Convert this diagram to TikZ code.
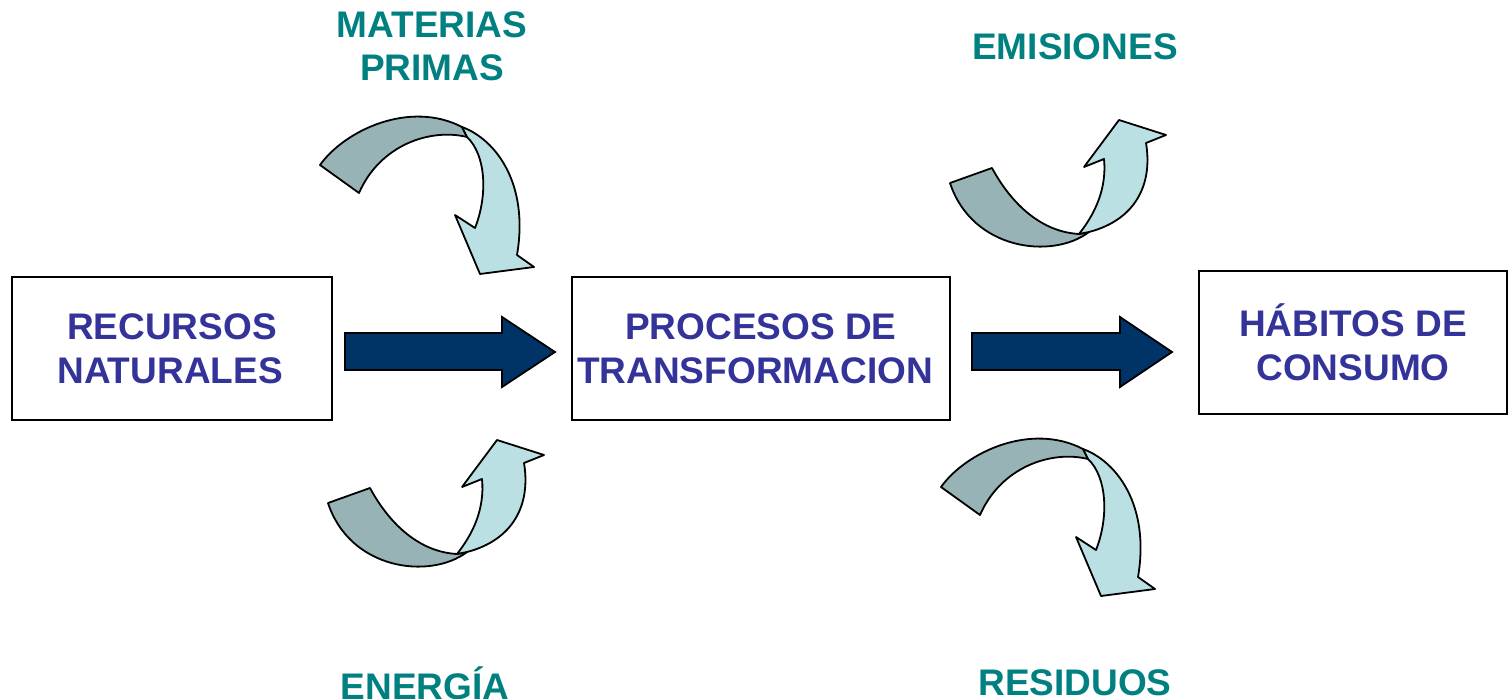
\documentclass[tikz,border=0pt]{standalone}
\usepackage{fontspec}
\setmainfont{Liberation Sans}
\definecolor{boxtext}{RGB}{51,51,153}
\definecolor{labteal}{RGB}{0,128,128}
\definecolor{ribdark}{RGB}{151,179,182}
\definecolor{riblight}{RGB}{187,224,227}
\definecolor{blockblue}{RGB}{0,51,102}
\tikzset{
  box/.style={draw=black, line width=0.9pt, fill=white, inner sep=0pt, align=center,
    text=boxtext, font=\bfseries\fontsize{18.5}{22}\selectfont},
  lbl/.style={inner sep=0pt, align=center, text=labteal, font=\bfseries\fontsize{18.5}{21.5}\selectfont},
  ribbon/.style={draw=black, line width=0.9pt, line join=round},
  blockarrow/.style={draw=black, line width=0.9pt, fill=blockblue, line join=miter},
  pics/downribbon/.style={code={
    \draw[ribbon, fill=ribdark] (320,165) .. controls (345,130) and (410,100) .. (462,127)
      -- (467,137) .. controls (430,128) and (380,145) .. (359,193) -- cycle;
    \draw[ribbon, fill=riblight] (462,127) .. controls (497,140) and (529,185) .. (517,255)
      -- (534,267) -- (480,274) -- (455,215) -- (475,228)
      .. controls (488,195) and (486,155) .. (467,137) -- cycle;
  }},
  pics/upribbon/.style={code={
    \draw[ribbon, fill=ribdark] (328,503) -- (370,488) .. controls (390,525) and (420,552) .. (457,554)
      -- (467,552) .. controls (430,580) and (350,570) .. (328,503) -- cycle;
    \draw[ribbon, fill=riblight] (457,554) .. controls (472,535) and (485,510) .. (482,479)
      -- (462,487) -- (497,440) -- (544,455) -- (524,463)
      .. controls (531,505) and (513,540) .. (467,552) -- cycle;
  }}
}
\begin{document}
\begin{tikzpicture}[x=0.5pt, y=-0.5pt]
\useasboundingbox (0,0) rectangle (1508,699);
% boxes
\node[box, minimum width=160pt, minimum height=71.5pt] (rec) at (172,348.5) {RECURSOS\\NATURALES\hspace*{2pt}};
\node[box, minimum width=189pt, minimum height=71.5pt] (pro) at (761,348.5) {PROCESOS DE\\TRANSFORMACION\hspace*{6pt}};
\node[box, minimum width=154pt, minimum height=71.5pt] (hab) at (1353,342.5) {HÁBITOS DE\\CONSUMO};
% labels
\node[lbl] (mat) at (432,46) {MATERIAS\\PRIMAS};
\node[lbl] (emi) at (1075,47) {EMISIONES};
\node[lbl] (ene) at (425,683) {ENERGÍA};
\node[lbl] (res) at (1075,683) {RESIDUOS};
% curved ribbon arrows
\pic at (0,0) {downribbon};
\pic at (621,322) {downribbon};
\pic at (0,0) {upribbon};
\pic at (622,-320) {upribbon};
% block arrows
\draw[blockarrow] (345,333) -- (502,333) -- (502,317) -- (555,352) -- (502,387) -- (502,370) -- (345,370) -- cycle;
\draw[blockarrow] (972,333) -- (1120,333) -- (1120,317) -- (1172,352) -- (1120,387) -- (1120,370) -- (972,370) -- cycle;
\end{tikzpicture}
\end{document}
